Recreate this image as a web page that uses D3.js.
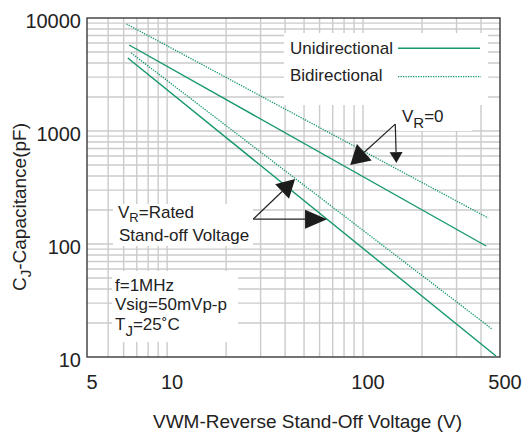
<!DOCTYPE html>
<html><head><meta charset="utf-8">
<script src="https://cdn.jsdelivr.net/npm/d3@7"></script>
<style>
body{margin:0;background:#fff}
svg{display:block}
text{font-family:"Liberation Sans",Arial,Helvetica,sans-serif;fill:#222}
</style>
</head><body>
<svg id="chart" width="528" height="434"></svg>
<script>
// ---- data ----
const seriesNames = ["Unidirectional", "Bidirectional"];
// V_R = 0 curves
const uniZeroV = [6.4, 425];
const uniZeroC = [5770, 96];
const biZeroV = [6.2, 435];
const biZeroC = [8850, 170];
// V_R = rated stand-off voltage curves
const uniRatedV = [6.3, 477];
const uniRatedC = [4430, 10.2];
const biRatedV = [6.55, 455];
const biRatedC = [4900, 17.7];
// axes
const xDomain = [3.9, 500];
const yDomain = [10, 10000];
const xTickValues = [3.9, 10, 100, 500];
const xTickLabels = ["5", "10", "100", "500"];
const yTickValues = [10, 100, 1000, 10000];
const yTickLabels = ["10", "100", "1000", "10000"];
// annotation anchors (data units)
const vr0From = [146, 1150];
const vr0Tips = [[86, 500], [148, 520]];
const ratedFrom = [27.5, 166];
const ratedTips = [[45, 376], [65.5, 166]];

// ---- layout ----
const svg = d3.select("#chart");
const L = 87, R = 500, T = 18, B = 357;
const x = d3.scaleLog().domain(xDomain).range([L, R]);
const y = d3.scaleLog().domain(yDomain).range([B, T]);
const green = "#16986c";

// grid
const gGrid = svg.append("g").attr("stroke", "#cbcbcb").attr("stroke-width", 1.4);
x.ticks().filter(v => v > 4.5 && v < 500).forEach(v => {
  gGrid.append("line").attr("x1", x(v)).attr("x2", x(v)).attr("y1", T).attr("y2", B);
});
y.ticks().filter(v => v > 10 && v < 10000).forEach(v => {
  gGrid.append("line").attr("x1", L).attr("x2", R).attr("y1", y(v)).attr("y2", y(v));
});

// white label backgrounds (they hide the grid)
const masks = [[284, 33, 204, 72], [398, 105, 74, 26], [113, 204, 140, 42], [112, 271, 126, 71]];
masks.forEach(m => svg.append("rect").attr("x", m[0]).attr("y", m[1]).attr("width", m[2]).attr("height", m[3]).attr("fill", "#fff"));

// frame
svg.append("rect").attr("x", L).attr("y", T).attr("width", R - L).attr("height", B - T)
  .attr("fill", "none").attr("stroke", "#3a3a3a").attr("stroke-width", 1.4);

// curves
const line = d3.line().x(d => x(d[0])).y(d => y(d[1]));
const curves = [
  {v: uniZeroV, c: uniZeroC, dash: null},
  {v: uniRatedV, c: uniRatedC, dash: null},
  {v: biZeroV, c: biZeroC, dash: "1.3,1.2"},
  {v: biRatedV, c: biRatedC, dash: "1.3,1.2"}
];
curves.forEach(s => {
  svg.append("path").datum(d3.zip(s.v, s.c)).attr("d", line)
    .attr("fill", "none").attr("stroke", green)
    .attr("stroke-width", s.dash ? 1.3 : 1.4)
    .attr("stroke-dasharray", s.dash);
});

// axis tick labels
svg.append("g").selectAll("text").data(xTickValues).join("text")
  .attr("x", d => x(d) + 5).attr("y", 389).attr("text-anchor", "middle")
  .attr("font-size", 20).text((d, i) => xTickLabels[i]);
svg.append("g").selectAll("text").data(yTickValues).join("text")
  .attr("x", 81).attr("y", d => y(d) + 3).attr("dy", "0.35em").attr("text-anchor", "end")
  .attr("font-size", 20).text((d, i) => yTickLabels[i]);

// axis titles
svg.append("text").attr("x", 307.5).attr("y", 428).attr("text-anchor", "middle")
  .attr("font-size", 19).text("VWM-Reverse Stand-Off Voltage (V)");
const yt = svg.append("text").attr("transform", "translate(26,207) rotate(-90)")
  .attr("text-anchor", "middle").attr("font-size", 19);
yt.append("tspan").text("C");
yt.append("tspan").attr("font-size", 15).attr("dy", 5).text("J");
yt.append("tspan").attr("dy", -5).text("-Capacitance(pF)");

// legend
const lg = svg.append("g").attr("font-size", 17);
lg.append("text").attr("x", 290).attr("y", 54).text(seriesNames[0]);
lg.append("text").attr("x", 290).attr("y", 80.5).text(seriesNames[1]);
lg.append("line").attr("x1", 398).attr("x2", 480).attr("y1", 48.3).attr("y2", 48.3)
  .attr("stroke", green).attr("stroke-width", 1.5);
lg.append("line").attr("x1", 398).attr("x2", 481).attr("y1", 76.7).attr("y2", 76.7)
  .attr("stroke", green).attr("stroke-width", 1.3).attr("stroke-dasharray", "1.3,1.2");

// arrows
function arrow(from, to, len, half) {
  const x0 = x(from[0]), y0 = y(from[1]), x1 = x(to[0]), y1 = y(to[1]);
  const dx = x1 - x0, dy = y1 - y0, d = Math.hypot(dx, dy), ux = dx / d, uy = dy / d;
  const bx = x1 - ux * len, by = y1 - uy * len;
  svg.append("line").attr("x1", x0).attr("y1", y0).attr("x2", bx).attr("y2", by)
    .attr("stroke", "#222").attr("stroke-width", 1.2);
  svg.append("path").attr("fill", "#1c1c1c")
    .attr("d", `M${x1},${y1}L${bx - uy * half},${by + ux * half}L${bx + uy * half},${by - ux * half}Z`);
}
arrow(vr0From, vr0Tips[0], 19, 11);
arrow(vr0From, vr0Tips[1], 11, 6.5);
arrow(ratedFrom, ratedTips[0], 18, 10);
arrow(ratedFrom, ratedTips[1], 22, 9.5);

// annotation texts
const a1 = svg.append("text").attr("x", 402).attr("y", 122).attr("font-size", 17);
a1.append("tspan").text("V");
a1.append("tspan").attr("font-size", 15).attr("dy", 6).text("R");
a1.append("tspan").attr("dy", -6).text("=0");

const a2 = svg.append("text").attr("x", 118).attr("y", 217.5).attr("font-size", 17);
a2.append("tspan").text("V");
a2.append("tspan").attr("font-size", 13).attr("dy", 4).text("R");
a2.append("tspan").attr("dy", -4).text("=Rated");
svg.append("text").attr("x", 119).attr("y", 241).attr("font-size", 17).text("Stand-off Voltage");

svg.append("text").attr("x", 115).attr("y", 291).attr("font-size", 17).text("f=1MHz");
svg.append("text").attr("x", 115).attr("y", 310).attr("font-size", 17).text("Vsig=50mVp-p");
const a3 = svg.append("text").attr("x", 115).attr("y", 330).attr("font-size", 17);
a3.append("tspan").text("T");
a3.append("tspan").attr("font-size", 15).attr("dy", 6).text("J");
a3.append("tspan").attr("dy", -6).text("=25˚C");
</script>
</body></html>
